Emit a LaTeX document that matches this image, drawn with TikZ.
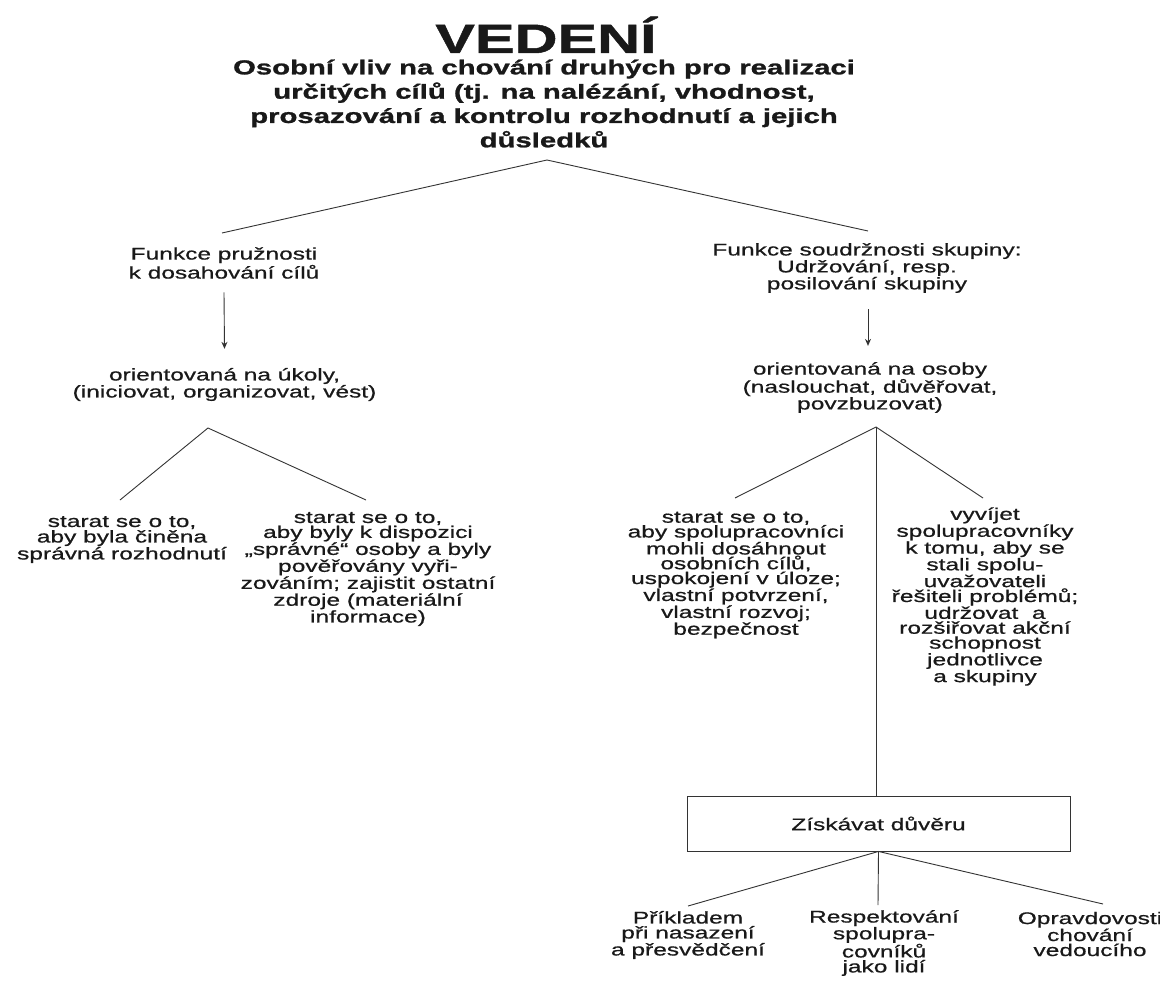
\documentclass[tikz,border=0pt]{standalone}
\usepackage{fontspec}
\setmainfont{Liberation Sans}[FakeStretch=1.45,
  UprightFeatures={FakeBold=0.7},
  BoldFeatures={FakeBold=1.2}]
\usetikzlibrary{arrows.meta}
\begin{document}
\begin{tikzpicture}[x=1pt,y=-1pt,
  ink/.style={draw=black!80, line width=0.9pt},
  arr/.style={ink, -{Stealth[length=7pt,width=6pt]}},
  lbl/.style={align=center, inner sep=0pt, text=black!90,
    font=\fontsize{16.9}{#1}\selectfont},
  lbl/.default=15,
  heading/.style={inner sep=0pt, anchor=base, text=black!90,
    font=\fontsize{41}{41}\selectfont\bfseries},
  defn/.style={align=center, inner sep=0pt, text=black!90,
    font=\fontsize{20.2}{24.3}\selectfont\bfseries},
  framed/.style={draw=black!80, line width=0.9pt, minimum width=383pt,
    minimum height=55pt, inner sep=0pt, text=black!90,
    font=\fontsize{16.9}{15}\selectfont}]

\useasboundingbox (0,0) rectangle (1160,987);
\fill[white] (0,0) rectangle (1160,987);

% title and definition
\node[heading] (ved) at (546,53) {VEDENÍ};
\node[defn] (def) at (544,103.5) {Osobní vliv na chování druhých pro realizaci\\
  určitých cílů (tj. na nalézání, vhodnost,\\
  prosazování a kontrolu rozhodnutí a jejich\\
  důsledků};

% first split
\coordinate (top) at (547,160);
\coordinate (tl) at (222,233);
\coordinate (tr) at (868,231);
\draw[ink] (tl) -- (top) -- (tr);

% left branch: task orientation
\node[lbl=19] (fp) at (224,263) {Funkce pružnosti\\k dosahování cílů};
\node[lbl=17] (uk) at (224.5,384.5) {orientovaná na úkoly,\\(iniciovat, organizovat, vést)};
\draw[arr] ([shift={(0,13.5)}]fp.south) -- ([shift={(0,-19)}]uk.north);

\coordinate (lapex) at (208,428);
\coordinate (l1) at (120,500);
\coordinate (l2) at (366,500);
\draw[ink] (l1) -- (lapex) -- (l2);

\node[lbl=15.5] (rozh) at (122,539.5) {starat se o to,\\aby byla činěna\\správná rozhodnutí};
\node[lbl=15] (disp) at (368,569) {starat se o to,\\aby byly k dispozici\\„správné“ osoby a byly\\pověřovány vyři-\\zováním; zajistit ostatní\\zdroje (materiální\\informace)};

% right branch: people orientation
\node[lbl=15] (fs) at (867,268) {Funkce soudržnosti skupiny:\\Udržování, resp.\\posilování skupiny};
\node[lbl=14.5] (os) at (870,387.5) {orientovaná na osoby\\(naslouchat, důvěřovat,\\povzbuzovat)};
\draw[arr] ([shift={(1,16)}]fs.south) -- ([shift={(-2,-16)}]os.north);

\coordinate (rapex) at (876,427);
\coordinate (r1) at (735,498);
\coordinate (r2) at (983,498);
\draw[ink] (r1) -- (rapex) -- (r2);

\node[lbl=14.8] (cile) at (736,575) {starat se o to,\\aby spolupracovníci\\mohli dosáhnout\\osobních cílů,\\uspokojení v úloze;\\vlastní potvrzení,\\vlastní rozvoj;\\bezpečnost};
\node[lbl=14.9] (rozv) at (985,596.5) {vyvíjet\\spolupracovníky\\k tomu, aby se\\stali spolu-\\uvažovateli\\řešiteli problémů;\\udržovat\ \ a\\rozšiřovat akční\\schopnost\\jednotlivce\\a skupiny};

% trust
\node[framed] (dur) at (878.5,823.5) {Získávat důvěru};
\draw[ink] (rapex) -- (rapex |- dur.north);

\coordinate (b1) at (688,906);
\coordinate (b2) at (878,905);
\coordinate (b3) at (1103,904);
\draw[ink] (b1) -- (dur.south) -- (b3);
\draw[ink] (dur.south) -- (b2);

\node[lbl=15] (prik) at (688,935) {Příkladem\\při nasazení\\a přesvědčení};
\node[lbl=15] (resp) at (884,943) {Respektování\\spolupra-\\covníků\\jako lidí};
\node[lbl=15] (oprav) at (1090,934) {Opravdovosti\\chování\\vedoucího};
\end{tikzpicture}
\end{document}
